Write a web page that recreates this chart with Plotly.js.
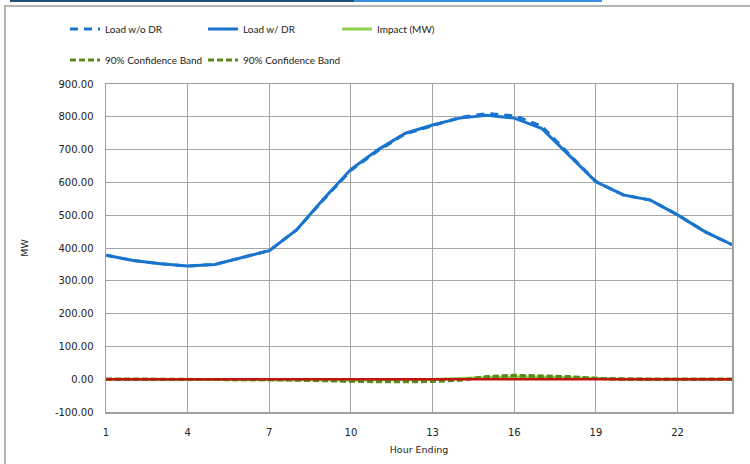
<!DOCTYPE html>
<html>
<head>
<meta charset="utf-8">
<script src="https://cdn.plot.ly/plotly-3.0.1.min.js"></script>
<style>
html,body{margin:0;padding:0;background:#fff;}
#chart{width:750px;height:464px;}
</style>
</head>
<body>
<div id="chart"></div>
<script>
// Hour ending
const hours = [1,2,3,4,5,6,7,8,9,10,11,12,13,14,15,16,17,18,19,20,21,22,23,24];
// Load with demand response (MW)
const loadWithDR = [378,362,352,345,350,370,392,455,550,640,700,750,775,796,805,796,765,684,602,562,546,501,450,410];
// Load without demand response (MW)
const loadWithoutDR = [378,362,352,345,350,370,392,455,548,637,697,748,774,798,810,803,772,688,603,562,546,501,450,410];
// Impact (MW)
const impact = [0,0,0,0,0,0,0,0,-2,-3,-3,-2,-1,2,5,7,7,4,1,0,0,0,0,0];
// 90% confidence band (lower / upper)
const bandLow = [0,0,0,0,0,0,-1,-3,-5,-7,-8,-8,-7,-3,6,10,9,6,2,0,0,0,0,0];
const bandHigh = [0,0,0,0,0,0,-1,-2,-4,-6,-7,-7,-6,-2,8,12,11,8,3,0,0,0,0,0];
// Zero reference line
const zeroLine = [0,0,0,0,0,0,0,0,0,0,0,0,0,0,0,0,0,0,0,0,0,0,0,0];
const xTicks = [1,4,7,10,13,16,19,22];
const yTicks = [-100,0,100,200,300,400,500,600,700,800,900];

const blue = '#1874CD';
const green = '#5A8A1E';
const legendFont = {family:'Lato, "Liberation Sans Narrow", sans-serif', size:10, color:'#222'};

const traces = [
  {x:hours, y:loadWithoutDR, name:'Load w/o DR', type:'scatter', mode:'lines',
   line:{color:blue, width:3, dash:'8px,6px'}, legend:'legend'},
  {x:hours, y:loadWithDR, name:'Load w/ DR', type:'scatter', mode:'lines',
   line:{color:blue, width:3}, legend:'legend2'},
  {x:hours, y:impact, name:'Impact (MW)', type:'scatter', mode:'lines',
   line:{color:'#92D050', width:3}, legend:'legend3'},
  {x:hours, y:bandLow, name:'90% Confidence Band', type:'scatter', mode:'lines',
   line:{color:green, width:3, dash:'6px,3px'}, legend:'legend4'},
  {x:hours, y:bandHigh, name:'90% Confidence Band', type:'scatter', mode:'lines',
   line:{color:green, width:3, dash:'6px,3px'}, legend:'legend5'},
  {x:hours, y:zeroLine, name:'Zero', type:'scatter', mode:'lines',
   line:{color:'#C0140C', width:2.5}, showlegend:false}
];

// plot area: left 106, right 732, top 84, bottom 412 -> width 626, height 328
const px = v => (v-106)/626;
const py = v => (412-v)/328;

function leg(xPix, yPix){
  return {orientation:'h', xref:'container', yref:'container', x:xPix/750, y:1-yPix/464,
          yanchor:'middle', xanchor:'left', font:legendFont, bgcolor:'rgba(0,0,0,0)'};
}

const layout = {
  width:750, height:464,
  margin:{l:106, r:18, t:84, b:52},
  paper_bgcolor:'#fff', plot_bgcolor:'#fff',
  showlegend:true,
  legend:leg(65,29), legend2:leg(203,29), legend3:leg(337,29),
  legend4:leg(65,60), legend5:leg(203,60),
  xaxis:{range:[1,24], tickmode:'array', tickvals:xTicks, ticktext:xTicks.map(String),
         showgrid:true, gridcolor:'#a6a6a6', gridwidth:1, zeroline:false,
         showline:true, linecolor:'#a0a0a0', linewidth:1.5, mirror:true, ticks:'',
         ticklabelstandoff:10,
         tickfont:{family:'"DejaVu Sans", Verdana, sans-serif', size:10, color:'#222'},
         title:{text:'Hour Ending', font:{family:'"DejaVu Sans", Tahoma, sans-serif', size:9.5, color:'#222'}, standoff:10}},
  yaxis:{range:[-100,900], tickmode:'array', tickvals:yTicks, ticktext:yTicks.map(v=>v.toFixed(2)),
         showgrid:true, gridcolor:'#a6a6a6', gridwidth:1, zeroline:false,
         showline:true, linecolor:'#a0a0a0', linewidth:1.5, mirror:true, ticks:'',
         ticklabelstandoff:9,
         tickfont:{family:'"DejaVu Sans", Verdana, sans-serif', size:10, color:'#222'},
         title:{text:'MW', font:{family:'"DejaVu Sans", Tahoma, sans-serif', size:9.5, color:'#222'}, standoff:24}},
  shapes:[
    {type:'line', xref:'paper', yref:'paper', x0:px(4), x1:px(752), y0:py(6), y1:py(6), line:{color:'#b4b4b4', width:2}},
    {type:'line', xref:'paper', yref:'paper', x0:px(5), x1:px(5), y0:py(6), y1:py(470), line:{color:'#b4b4b4', width:2}},
    {type:'line', xref:'paper', yref:'paper', x0:px(10), x1:px(354), y0:py(1), y1:py(1), line:{color:'#1F4E79', width:2}},
    {type:'line', xref:'paper', yref:'paper', x0:px(354), x1:px(602), y0:py(1), y1:py(1), line:{color:'#3C8FE0', width:2}}
  ]
};

Plotly.newPlot('chart', traces, layout, {displayModeBar:false, staticPlot:true});
</script>
</body>
</html>
